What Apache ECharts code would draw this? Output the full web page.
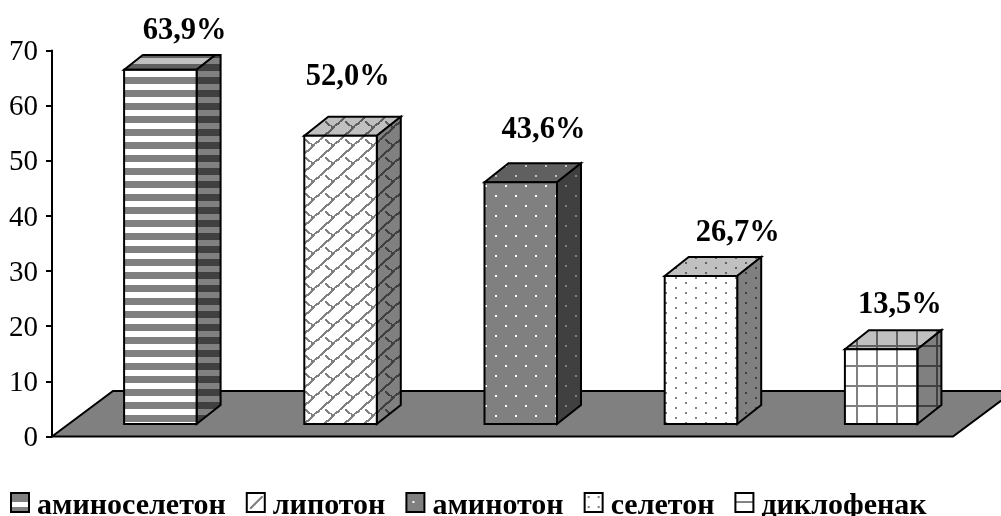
<!DOCTYPE html>
<html>
<head>
<meta charset="utf-8">
<style>html,body{margin:0;padding:0;background:#fff}#chart{width:1001px;height:516px}</style>
<script src="https://cdn.jsdelivr.net/npm/echarts@6/dist/echarts.min.js"></script>
</head>
<body>
<div id="chart"></div>
<script>
// Share of patients per preparation, %
const categories = ['аминоселетон', 'липотон', 'аминотон', 'селетон', 'диклофенак'];
const values = [63.9, 52.0, 43.6, 26.7, 13.5];
const yTicks = [0, 10, 20, 30, 40, 50, 60, 70];

// Label placement relative to the front top-left corner of each column
const labelShift = [[60.5, -38.7], [43.5, -59], [59, -52], [73, -43], [55, -44]];

const FONT = '"Liberation Serif", "Times New Roman", serif';
const DEPTH_X = 24, DEPTH_Y = 19, FRONT_W = 72.5, FRONT_SHIFT = -18, CEILING = 55;

// Front colours darken by face: the top takes 3/4 of the light, the side 1/2
const faceShade = { front: { 255: 255, 128: 128 }, top: { 255: 192, 128: 96 }, side: { 255: 128, 128: 64 } };
const grey = v => 'rgb(' + v + ',' + v + ',' + v + ')';

function tile(w, h, bg, fg, face, paint) {
  const c = document.createElement('canvas');
  c.width = w; c.height = h;
  const g = c.getContext('2d');
  g.fillStyle = grey(faceShade[face][bg]);
  g.fillRect(0, 0, w, h);
  g.fillStyle = grey(faceShade[face][fg]);
  paint(g);
  return { image: c, repeat: 'repeat' };
}

const mod = (a, n) => ((a % n) + n) % n;

const painters = [
  { w: 1, h: 13, bg: 128, fg: 255, paint: g => g.fillRect(0, 6, 1, 6) },
  // Trellis: long rising diagonals with a short stroke joining each from the upper left
  { w: 20, h: 18, bg: 255, fg: 128, paint: g => {
      for (let t = 0; t < 20; t++) {
        g.fillRect(mod(12 + t, 20), Math.round(mod(1 - t * 0.9, 18)), 2, 2);
      }
      for (let s = 1; s <= 7; s++) {
        g.fillRect(mod(12 - s, 20), Math.round(mod(1 - s * 0.8, 18)), 2, 2);
      }
    } },
  { w: 20, h: 20, bg: 128, fg: 255, paint: g => { g.fillRect(5, 5, 2, 2); g.fillRect(15, 15, 2, 2); } },
  { w: 20, h: 10, bg: 255, fg: 128, paint: g => { g.fillRect(5, 2, 2, 2); g.fillRect(15, 7, 2, 2); } },
  { w: 20, h: 20, bg: 255, fg: 128, paint: g => { g.fillRect(16, 0, 2, 20); g.fillRect(0, 5, 20, 2); } }
];
const fills = painters.map(p => ({
  front: tile(p.w, p.h, p.bg, p.fg, 'front', p.paint),
  top: tile(p.w, p.h, p.bg, p.fg, 'top', p.paint),
  side: tile(p.w, p.h, p.bg, p.fg, 'side', p.paint)
}));

// Small legend keys: one cell of each fill, enlarged
const keyPainters = [
  { bg: 128, fg: 255, paint: g => g.fillRect(0, 9, 18, 5) },
  { bg: 255, fg: 128, paint: g => { for (let t = 3; t < 15; t++) g.fillRect(t, 17 - t, 2, 2); } },
  { bg: 128, fg: 255, paint: g => g.fillRect(6, 8, 2, 2) },
  { bg: 255, fg: 128, paint: g => { g.fillRect(3, 3, 2, 2); g.fillRect(13, 3, 2, 2); g.fillRect(3, 13, 2, 2); g.fillRect(13, 13, 2, 2); } },
  { bg: 255, fg: 128, paint: g => g.fillRect(0, 8, 18, 2) }
];
const keyFills = keyPainters.map(p => tile(18, 18, p.bg, p.fg, 'front', p.paint));

const edge = { stroke: '#000', lineWidth: 2, lineJoin: 'miter' };

function renderColumn(index) {
  return function (params, api) {
    const p = api.coord([api.value(0), api.value(1)]);
    const base = api.coord([api.value(0), 0]);
    const x0 = p[0] + FRONT_SHIFT, x1 = x0 + FRONT_W;
    const yT = p[1], yB = base[1];
    // The depth of the tallest column is cut by the ceiling of the plot
    const t = Math.min(1, (yT - CEILING) / DEPTH_Y);
    const dxT = DEPTH_X * t, dyT = DEPTH_Y * t;
    const faces = [
      { shape: [[x0, yT], [x0 + dxT, yT - dyT], [x1 + dxT, yT - dyT], [x1, yT]], fill: fills[index].top },
      { shape: [[x1, yT], [x1 + dxT, yT - dyT], [x1 + DEPTH_X, yT - dyT], [x1 + DEPTH_X, yB - DEPTH_Y], [x1, yB]], fill: fills[index].side },
      { shape: [[x0, yT], [x1, yT], [x1, yB], [x0, yB]], fill: fills[index].front }
    ];
    const children = faces.map(f => ({
      type: 'polygon',
      shape: { points: f.shape },
      style: Object.assign({ fill: f.fill }, edge)
    }));
    children.push({
      type: 'text',
      style: {
        text: values[index].toFixed(1).replace('.', ',') + '%',
        x: x0 + labelShift[index][0],
        y: yT + labelShift[index][1],
        align: 'center',
        verticalAlign: 'middle',
        font: 'bold 30.5px ' + FONT,
        fill: '#000'
      }
    });
    return { type: 'group', children };
  };
}

function renderFloor(params, api) {
  const o = api.coord([0, 0]);
  const left = params.coordSys.x, right = left + params.coordSys.width;
  const y = o[1], back = 45.5, run = 61;
  return {
    type: 'polygon',
    shape: { points: [[left, y], [left + run, y - back], [right + run, y - back], [right, y]] },
    style: Object.assign({ fill: '#808080' }, edge)
  };
}

const chart = echarts.init(document.getElementById('chart'), null, { renderer: 'canvas' });
chart.setOption({
  animation: false,
  backgroundColor: '#fff',
  grid: [
    { left: 52, width: 901, top: 50.5, height: 386 },
    { left: 52, width: 901, top: 36, height: 388 }
  ],
  xAxis: [
    { gridIndex: 0, type: 'category', data: categories, show: false },
    { gridIndex: 1, type: 'category', data: categories, show: false }
  ],
  yAxis: [
    {
      gridIndex: 0, type: 'value', min: yTicks[0], max: yTicks[yTicks.length - 1], interval: 10,
      axisLine: { show: true, lineStyle: { color: '#000', width: 2 } },
      axisTick: { show: true, length: 6, lineStyle: { color: '#000', width: 2 } },
      splitLine: { show: false },
      axisLabel: {
        margin: 14,
        formatter: '{tick|{value}}',
        rich: { tick: { color: '#000', fontFamily: FONT, fontSize: 29, padding: [4, 0, 0, 0] } }
      }
    },
    { gridIndex: 1, type: 'value', min: yTicks[0], max: yTicks[yTicks.length - 1], show: false }
  ],
  legend: {
    left: 5, top: 486, icon: 'rect', itemWidth: 18, itemHeight: 19, itemGap: 20,
    formatter: '{item|{name}}',
    textStyle: {
      rich: { item: { fontFamily: FONT, fontSize: 30, fontWeight: 'bold', color: '#000', padding: [7, 0, 0, 3] } }
    },
    selectedMode: false,
    data: categories.map((name, i) => ({
      name,
      itemStyle: { color: keyFills[i], borderColor: '#000', borderWidth: 2 }
    }))
  },
  series: [
    { type: 'custom', name: 'пол', xAxisIndex: 0, yAxisIndex: 0, z: 1, silent: true, data: [[0, 0]], renderItem: renderFloor, encode: { x: 0, y: 1 } }
  ].concat(categories.map((name, i) => ({
    type: 'custom',
    name,
    xAxisIndex: 1,
    yAxisIndex: 1,
    z: 3,
    data: [[i, values[i]]],
    encode: { x: 0, y: 1 },
    renderItem: renderColumn(i)
  })))
});
</script>
</body>
</html>
